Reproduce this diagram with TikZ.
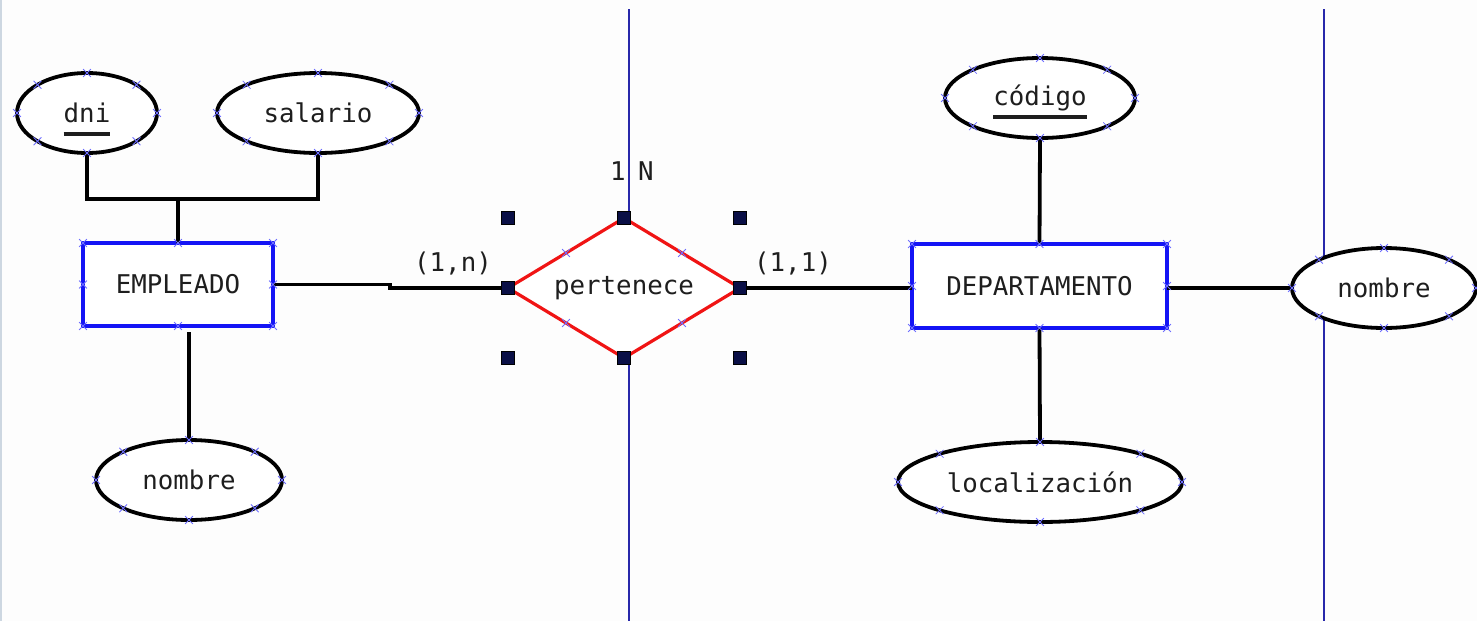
\documentclass[tikz,border=0pt]{standalone}
\usepackage{fontspec}
\setmonofont{DejaVu Sans Mono}
\usetikzlibrary{shapes.geometric,shapes.misc}
\definecolor{bg}{RGB}{253,253,253}
\definecolor{edgegray}{RGB}{205,215,225}
\definecolor{entblue}{RGB}{20,20,245}
\definecolor{vline}{RGB}{40,40,170}
\definecolor{relred}{RGB}{240,20,20}
\definecolor{hnd}{RGB}{10,15,70}
\definecolor{xblue}{RGB}{110,110,255}
\definecolor{txt}{RGB}{30,30,30}
\newcommand\keyul[1]{\setbox0\hbox{#1}\rlap{\smash{\rule[-6.5pt]{\wd0}{1.6pt}}}\box0}
\tikzset{
  attr/.style={ellipse, draw=black, line width=1.9pt, fill=white, inner sep=0pt, outer sep=0pt, minimum height=40pt, text=txt},
  ent/.style={rectangle, draw=entblue, line width=1.9pt, fill=white, inner sep=0pt, outer sep=0pt, text=txt},
  rel/.style={diamond, draw=relred, line width=1.6pt, fill=white, inner sep=0pt, outer sep=0pt, aspect=1.657, minimum width=116pt, minimum height=70pt, text=txt},
  link/.style={draw=black, line width=1.9pt},
  guide/.style={draw=vline, line width=1pt},
  handle/.style={rectangle, fill=hnd, draw=black, line width=0.3pt, minimum size=6.5pt, inner sep=0pt},
  xm/.style={cross out, draw=xblue, line width=0.4pt, minimum size=3.5pt, inner sep=0pt},
  lbl/.style={text=txt, inner sep=0pt}
}
\begin{document}
\begin{tikzpicture}[x=0.5pt, y=-0.5pt, font=\ttfamily\fontsize{12.9}{15}\selectfont]
\useasboundingbox (0,0) rectangle (1477,621);
\fill[bg] (0,0) rectangle (1477,621);
\fill[edgegray] (0,0) rectangle (2,621);

% guide lines
\coordinate (g1t) at (629,9);  \coordinate (g1b) at (629,621);
\coordinate (g2t) at (1324,9); \coordinate (g2b) at (1324,621);
\draw[guide] (g1t) -- (g1b);
\draw[guide] (g2t) -- (g2b);

% connectors (drawn under the nodes)
\coordinate (j) at (178,199);
\coordinate (jog) at (390,0);

% nodes
\node[attr, minimum width=70pt]  (dni)  at (87,113)   {\keyul{dni}};
\node[attr, minimum width=101pt] (sal)  at (318,113)  {salario};
\node[ent, minimum width=95pt, minimum height=41.5pt] (emp) at (178,284.5) {EMPLEADO};
\node[attr, minimum width=93pt]  (nomE) at (189,480)  {nombre};
\node[rel] (pert) at (624,288) {pertenece};
\node[ent, minimum width=127.5pt, minimum height=42pt] (dep) at (1039.5,286) {DEPARTAMENTO};
\node[attr, minimum width=95pt]  (cod)  at (1040,98)  {\keyul{código}};
\node[attr, minimum width=142pt] (loc)  at (1040,482) {localización};
\node[attr, minimum width=92pt]  (nomD) at (1384,288) {nombre};

\draw[link] (dni.south) |- (j) -| (sal.south);
\draw[link] (j) -- (emp.north);
\draw[link] (emp.east) -- (emp.east -| jog) -- (pert.west -| jog) -- (pert.west);
\draw[link] (pert.east) -- (pert.east -| dep.west);
\draw[link] (nomD.west) -- (nomD.west -| dep.east);
\draw[link] (cod.south) -- (dep.north);
\draw[link] (dep.south) -- (loc.north);
\draw[link] (nomE.north) -- ([yshift=-3pt]nomE.north |- emp.south);

% anchor marks
\foreach \n in {dni,sal,nomE,cod,loc,nomD,emp,dep}
  \foreach \a in {north,south,east,west,north east,north west,south east,south west}
    \node[xm] at (\n.\a) {};
\foreach \a in {north east,north west,south east,south west}
  \node[xm] at (pert.\a) {};

% selection handles
\foreach \a in {north,south,east,west}
  \node[handle] at (pert.\a) {};
\node[handle] at (pert.west |- pert.north) {};
\node[handle] at (pert.east |- pert.north) {};
\node[handle] at (pert.west |- pert.south) {};
\node[handle] at (pert.east |- pert.south) {};

% labels
\node[lbl] (cn) at (453,264) {(1,n)};
\node[lbl] (c1) at (793,264) {(1,1)};
\node[lbl] (one) at (618,171) {1};
\node[lbl] (bigN) at (646,171) {N};
\end{tikzpicture}
\end{document}
